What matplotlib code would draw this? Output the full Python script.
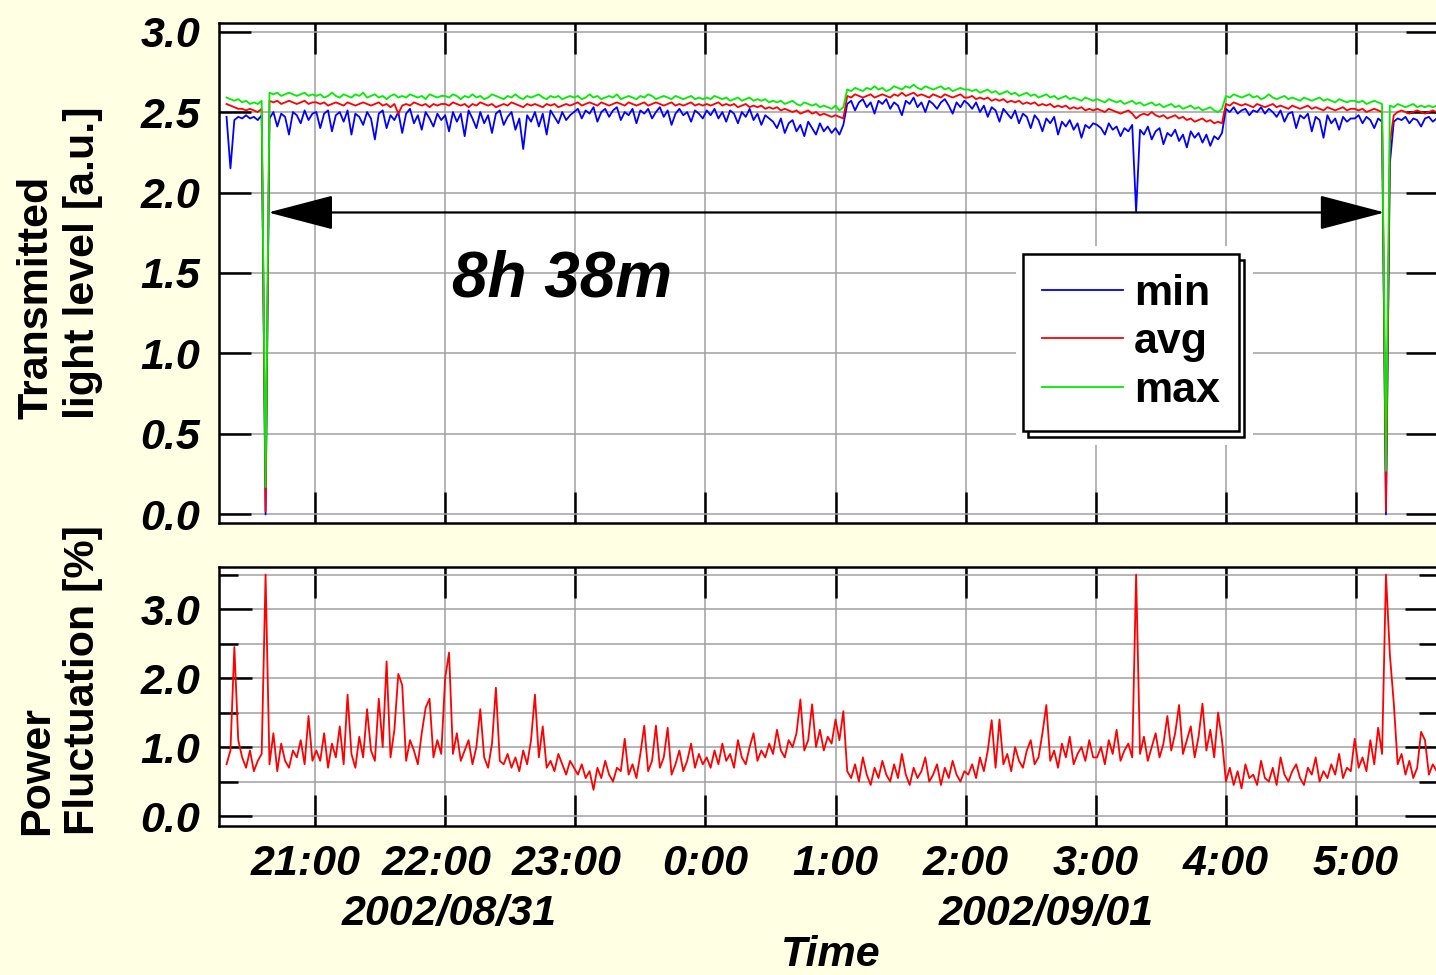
import numpy as np
import matplotlib
matplotlib.use("Agg")
import matplotlib.pyplot as plt
from matplotlib.patches import Rectangle
from matplotlib.ticker import MultipleLocator, FormatStrFormatter
from matplotlib.transforms import ScaledTranslation

# sampling grid of the logger (hours since 2002/08/31 0:00)
T0 = 20.32
STEP = 0.03

# transmitted light level, in 1/100 a.u. (one row per hour-ish block)
MIN_LEVEL = [
    247, 215, 245, 247, 246, 248, 246, 247, 245, 248,
    0,
    246, 250, 241, 249, 247, 236, 250, 248, 243, 251, 245, 249,
    250, 240, 249, 251, 238, 248, 250, 244, 251, 236, 249, 247, 242, 250, 246, 233, 249, 251, 240, 248, 245, 250, 237, 249, 252, 243, 248, 239, 250, 246, 241, 249, 245,
    248, 238, 250, 244, 249, 235, 251, 246, 240, 250, 243, 248, 237, 249, 251, 242, 247, 250, 239, 246, 227, 248, 244, 250, 241, 249, 236, 251, 247, 243, 250, 245, 248,
    250, 252, 246, 251, 249, 253, 244, 250, 252, 247, 251, 253, 245, 250, 248, 252, 243, 251, 249, 252, 246, 250, 253, 247, 251, 242, 249, 252, 248, 250, 244, 251, 249, 246,
    251, 248, 252, 246, 250, 244, 251, 249, 243, 250, 247, 252, 245, 249, 242, 248, 246,
    244, 240, 246, 237, 243, 245, 238, 242, 235, 244, 240, 236, 243, 238, 241, 237,
    240, 236, 242,
    255, 257, 251, 256, 258, 253, 256, 249, 257, 255, 258, 252, 256, 254, 248, 257, 255, 259, 253, 256, 250, 257, 255, 252, 256, 258, 254, 249, 256, 253, 257,
    255, 252, 256, 250, 254, 247, 253, 251, 244, 252, 249, 246, 251, 243, 249, 247, 240, 248, 245, 238, 246, 243, 247, 236, 244, 241, 245, 239, 243, 234, 242, 240, 243,
    242, 240, 236, 243, 239, 241, 235, 240, 238, 242, 188, 239, 236, 241, 233, 238, 240, 230, 237, 235, 239, 232, 236, 228, 238, 234, 237, 231, 236, 229, 235, 233, 237,
    252, 250, 253, 249, 251, 252, 248, 251, 250, 253, 249, 252, 250, 247, 251, 244, 249, 250, 240, 248, 246, 249, 238, 247, 245, 234, 248, 243, 246, 239, 247, 244, 246,
    246, 248, 243, 247, 245, 240, 246, 244,
    0,
    218, 244, 246, 245, 247, 243, 246, 245, 241, 246, 247, 244, 246, 245,
]

AVG_LEVEL = [
    255, 254, 253, 252, 252, 251, 252, 251, 250, 252,
    2,
    257, 256, 257, 255, 256, 257, 256, 255, 256, 257, 255, 256,
    256, 255, 256, 254, 255, 256, 255, 254, 256, 255, 254, 255, 256, 255, 254, 255, 256, 254, 255, 253, 255, 249, 254, 255, 254, 256, 255, 254, 255, 253, 255, 254, 255,
    255, 254, 256, 255, 254, 255, 253, 255, 254, 256, 255, 254, 255, 253, 254, 255, 254, 256, 255, 254, 253, 255, 254, 255, 254, 253, 255, 254, 255, 253, 254, 255, 254,
    255, 256, 254, 255, 256, 255, 254, 256, 255, 254, 255, 256, 255, 254, 256, 255, 254, 255, 256, 254, 255, 256, 255, 254, 255, 256, 254, 255, 254, 255, 256, 254, 255, 254,
    255, 254, 255, 256, 254, 255, 254, 255, 253, 254, 255, 253, 254, 253, 254, 252, 253,
    252, 253, 251, 252, 251, 250, 251, 249, 250, 251, 249, 250, 248, 249, 248, 247,
    248, 247, 246,
    260, 259, 261, 260, 259, 260, 261, 259, 260, 261, 260, 259, 261, 260, 262, 260, 261, 262, 260, 261, 260, 259, 261, 260, 259, 261, 260, 259, 260, 261, 259,
    259, 260, 258, 259, 258, 259, 257, 258, 257, 258, 256, 257, 256, 257, 255, 256, 255, 256, 254, 255, 254, 255, 253, 254, 253, 254, 252, 253, 252, 253, 251, 252, 251,
    252, 251, 250, 252, 251, 250, 249, 250, 251, 249, 246, 248, 249, 248, 250, 248, 247, 248, 246, 247, 248, 246, 247, 245, 246, 244, 245, 246, 244, 245, 243, 244, 243,
    255, 254, 256, 255, 254, 255, 254, 253, 255, 254, 253, 254, 255, 253, 254, 253, 252, 254, 253, 252, 253, 254, 252, 253, 252, 251, 253, 252, 251, 252, 253, 251, 252,
    252, 251, 252, 250, 251, 252, 251, 250,
    2,
    231, 248, 250, 251, 250, 249, 250, 251, 250, 249, 250, 251, 250, 249,
]

MAX_LEVEL = [
    259, 258, 257, 258, 256, 257, 255, 256, 255, 257,
    17,
    262, 261, 262, 260, 261, 262, 261, 260, 261, 262, 260, 261,
    260, 261, 259, 260, 262, 260, 259, 261, 260, 259, 261, 260, 262, 259, 260, 261, 259, 260, 258, 260, 261, 259, 260, 259, 261, 260, 259, 260, 258, 261, 260, 259, 260,
    260, 259, 261, 260, 258, 260, 259, 261, 259, 260, 258, 259, 261, 260, 259, 258, 260, 259, 261, 259, 258, 260, 259, 260, 261, 259, 258, 260, 259, 260, 258, 259, 260,
    259, 260, 258, 259, 261, 259, 260, 258, 259, 260, 259, 261, 258, 259, 260, 259, 258, 260, 259, 261, 260, 258, 259, 260, 259, 258, 260, 259, 258, 259, 260, 258, 259, 258,
    259, 258, 260, 259, 258, 259, 257, 258, 259, 257, 258, 259, 257, 258, 257, 258, 256,
    257, 256, 257, 255, 256, 257, 255, 254, 256, 255, 254, 255, 253, 254, 253, 252,
    254, 251, 253,
    264, 263, 265, 264, 263, 265, 264, 266, 264, 265, 263, 264, 266, 265, 264, 266, 265, 267, 265, 264, 266, 265, 264, 265, 266, 264, 265, 263, 264, 265, 264,
    264, 263, 264, 262, 263, 264, 262, 263, 261, 262, 263, 261, 262, 260, 261, 262, 260, 261, 259, 260, 261, 259, 260, 258, 259, 260, 258, 259, 258, 257, 259, 258, 257,
    258, 257, 256, 258, 257, 256, 257, 255, 256, 257, 255, 256, 254, 255, 256, 254, 255, 253, 254, 255, 253, 254, 252, 253, 254, 252, 253, 251, 252, 253, 251, 250, 252,
    260, 259, 261, 260, 259, 260, 261, 259, 260, 258, 259, 261, 259, 258, 259, 260, 258, 259, 258, 257, 259, 258, 257, 258, 259, 257, 258, 257, 256, 258, 257, 256, 257,
    257, 256, 257, 255, 256, 257, 256, 255,
    27,
    254, 253, 255, 254, 253, 254, 255, 253, 254, 253, 254, 253, 254, 253,
]

# power fluctuation, in 1/100 %
POWER_FLUCT = [
    75, 95, 245, 110, 85, 70, 95, 65, 80, 90,
    350,
    75, 120, 65, 105, 80, 70, 95, 85, 110, 75, 145, 80,
    95, 80, 120, 70, 105, 85, 130, 75, 176, 90, 70, 115, 85, 155, 95, 80, 170, 100, 224, 85, 125, 206, 190, 80, 110, 95, 75, 120, 157, 170, 85, 110, 90,
    200, 237, 90, 120, 80, 95, 110, 75, 100, 155, 85, 70, 105, 186, 80, 75, 90, 70, 85, 65, 95, 75, 110, 176, 85, 130, 70, 80, 65, 90, 75, 60, 80,
    70, 60, 75, 55, 65, 38, 70, 55, 80, 60, 50, 70, 65, 112, 60, 75, 55, 90, 131, 65, 80, 131, 70, 85, 128, 60, 75, 95, 65, 80, 105, 70, 90, 75,
    85, 70, 95, 75, 105, 80, 90, 70, 110, 85, 75, 100, 120, 80, 95, 85, 105, 90, 125, 95, 85, 110, 100, 120, 169, 95, 110, 162, 100, 125, 95, 115, 105, 140, 110, 152,
    65, 55, 75, 50, 85, 60, 45, 70, 55, 80, 60, 50, 75, 55, 90, 60, 45, 70, 55, 65, 85, 50, 60, 75, 45, 70, 55, 80, 60, 50, 65,
    60, 75, 55, 85, 65, 95, 139, 70, 140, 75, 90, 65, 100, 80, 70, 95, 110, 75, 85, 120, 161, 80, 95, 70, 105, 85, 115, 75, 90, 100, 80, 110, 85,
    85, 100, 75, 110, 90, 125, 80, 95, 105, 85, 350, 90, 115, 80, 100, 120, 85, 105, 145, 95, 120, 161, 90, 110, 130, 85, 115, 163, 95, 125, 85, 150, 110,
    50, 70, 45, 65, 40, 75, 55, 60, 45, 80, 55, 50, 70, 45, 85, 60, 50, 65, 75, 55, 45, 70, 60, 85, 50, 65, 55, 75, 60, 90, 55, 70, 65,
    112, 70, 85, 65, 110, 75, 128, 90,
    350,
    234, 164, 75, 90, 60, 80, 55, 70, 122, 110, 60, 75, 65, 55,
]

HOURS = [21, 22, 23, 24, 25, 26, 27, 28, 29]
TIME_LABELS = ["21:00", "22:00", "23:00", "0:00", "1:00", "2:00", "3:00", "4:00", "5:00"]
DATE_LABELS = ["2002/08/31", "2002/09/01"]
SERIES_NAMES = ["min", "avg", "max"]

# downtime between the two drops
ARROW_START, ARROW_END, ARROW_Y = 20.64, 29.22, 1.876
GAP_TEXT = "8h 38m"

n = len(MAX_LEVEL)
assert len(MIN_LEVEL) == n and len(AVG_LEVEL) == n and len(POWER_FLUCT) == n
t = T0 + STEP * np.arange(n)

plt.rcParams['font.family'] = ['Liberation Sans', 'DejaVu Sans']
plt.rcParams['font.weight'] = 'bold'
plt.rcParams['font.style'] = 'italic'

BG = '#FFFFE3'
GRID = '#A0A0A0'
TICK_FS = 31

fig = plt.figure(figsize=(14.36, 9.75), dpi=100, facecolor=BG)
ax1 = fig.add_axes([0.1525, 0.4636, 0.8489, 0.5128])
ax2 = fig.add_axes([0.1525, 0.1528, 0.8489, 0.2656], sharex=ax1)

ax1.plot(t, np.array(MIN_LEVEL) / 100, color='#0000FF', lw=1.3, label=SERIES_NAMES[0])
ax1.plot(t, np.array(AVG_LEVEL) / 100, color='#FF0000', lw=1.3, label=SERIES_NAMES[1])
ax1.plot(t, np.array(MAX_LEVEL) / 100, color='#00EE00', lw=1.3, label=SERIES_NAMES[2])
ax2.plot(t, np.array(POWER_FLUCT) / 100, color='#FF0000', lw=1.3)

for ax in (ax1, ax2):
    ax.set_facecolor('white')
    ax.set_axisbelow(True)
    for s in ax.spines.values():
        s.set_linewidth(1.8)
    ax.tick_params(axis='both', which='both', direction='in', top=True, right=True,
                   width=1.8, labelsize=TICK_FS)
    ax.tick_params(axis='x', which='major', length=22, pad=13)
    ax.tick_params(axis='y', pad=13.5)
    ax.grid(True, which='both', color=GRID, lw=1.1)

ax1.set_xlim(20.262, 29.63)
ax2.set_xticks(HOURS)
ax2.set_xticklabels(TIME_LABELS)
ax1.tick_params(labelbottom=False)
ax2.tick_params(axis='x', which='minor', bottom=False, top=False)
ax1.tick_params(axis='x', which='minor', bottom=False, top=False)

ax1.set_ylim(-0.053, 3.053)
ax1.yaxis.set_major_locator(MultipleLocator(0.5))
ax1.yaxis.set_major_formatter(FormatStrFormatter('%.1f'))
ax1.tick_params(axis='y', which='major', length=23)

ax2.set_ylim(-0.145, 3.61)
ax2.yaxis.set_major_locator(MultipleLocator(1.0))
ax2.yaxis.set_minor_locator(MultipleLocator(0.5))
ax2.yaxis.set_major_formatter(FormatStrFormatter('%.1f'))
ax2.tick_params(axis='y', which='major', length=24)
ax2.tick_params(axis='y', which='minor', length=13.5)

# two-digit hours sit a bit to the left of their ticks
shift = ScaledTranslation(-0.09, 0, fig.dpi_scale_trans)
for lab in ax2.get_xticklabels():
    if len(lab.get_text()) > 4:
        lab.set_transform(lab.get_transform() + shift)

ax1.annotate('', xy=(ARROW_END, ARROW_Y), xytext=(ARROW_START, ARROW_Y),
             arrowprops=dict(arrowstyle='<|-|>,head_length=4.2,head_width=1.1',
                             mutation_scale=10, lw=1.6, color='black',
                             shrinkA=0, shrinkB=0))
ax1.text(22.05, 1.351, GAP_TEXT, fontsize=46, ha='left', va='baseline')

leg = ax1.legend(loc='upper left', bbox_to_anchor=(0.6593, 0.538), borderaxespad=0,
                 frameon=True, fancybox=False, edgecolor='black', framealpha=1,
                 handlelength=1.86, handletextpad=0.26, labelspacing=0.2, borderpad=0.46,
                 prop={'family': 'Liberation Sans', 'weight': 'bold', 'style': 'normal', 'size': 31})
leg.get_frame().set_linewidth(1.8)
leg.set_zorder(10)

fig.text(0.0418, 0.5703, 'Transmitted\nlight level [a.u.]', rotation=90, ha='center', va='bottom',
         multialignment='left', fontsize=31, fontstyle='normal', fontweight='bold')
fig.text(0.0418, 0.1436, 'Power\nFluctuation [%]', rotation=90, ha='center', va='bottom',
         multialignment='left', fontsize=31, fontstyle='normal', fontweight='bold')

fig.text(449 / 1436, 0.051, DATE_LABELS[0], fontsize=TICK_FS, ha='center', va='baseline')
fig.text(1046 / 1436, 0.051, DATE_LABELS[1], fontsize=TICK_FS, ha='center', va='baseline')
fig.text(831 / 1436, 0.0095, 'Time', fontsize=TICK_FS, ha='center', va='baseline')

# legend shadow outline and white clearance around the box
fig.canvas.draw()
bb = leg.get_window_extent()
inv = ax1.transAxes.inverted()
def to_axes(x0, y0, x1, y1):
    (a0, b0), (a1, b1) = inv.transform([(x0, y0), (x1, y1)])
    return a0, b0, a1 - a0, b1 - b0

a, b, w, h = to_axes(bb.x0 - 7, bb.y0 - 14, bb.x1 + 14, bb.y1 + 8)
ax1.add_patch(Rectangle((a, b), w, h, transform=ax1.transAxes, facecolor='white',
                        edgecolor='none', zorder=1.5, clip_on=False))
a, b, w, h = to_axes(bb.x0 + 5, bb.y0 - 6, bb.x1 + 5, bb.y1 - 6)
ax1.add_patch(Rectangle((a, b), w, h, transform=ax1.transAxes, facecolor='white',
                        edgecolor='black', lw=1.8, zorder=9, clip_on=False))

fig.savefig('out.png', dpi=100, facecolor=BG)
